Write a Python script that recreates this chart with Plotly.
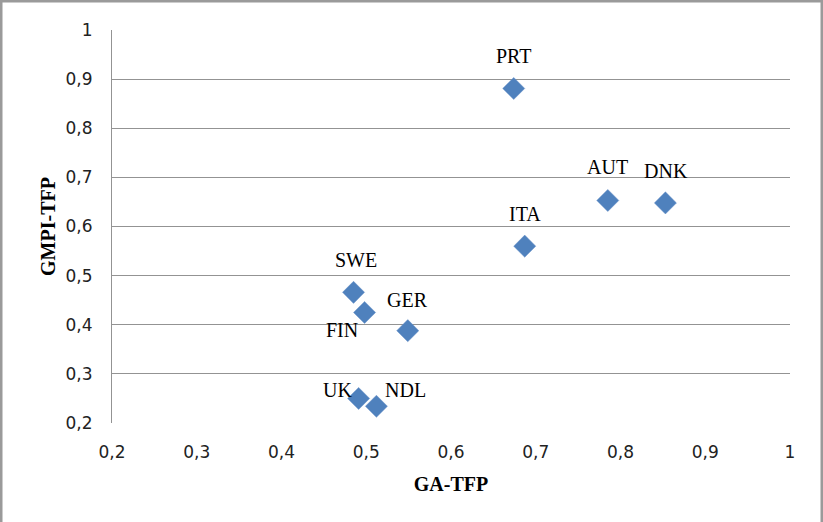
import plotly.graph_objects as go

countries = ["PRT", "AUT", "DNK", "ITA", "SWE", "FIN", "GER", "UK", "NDL"]
ga_tfp = [0.674, 0.785, 0.853, 0.687, 0.485, 0.498, 0.549, 0.491, 0.512]
gmpi_tfp = [0.881, 0.653, 0.648, 0.560, 0.466, 0.425, 0.388, 0.250, 0.234]
tick_vals = [0.2, 0.3, 0.4, 0.5, 0.6, 0.7, 0.8, 0.9, 1.0]
tick_text = ["0,2", "0,3", "0,4", "0,5", "0,6", "0,7", "0,8", "0,9", "1"]

# label pixel offsets (styling)
label_offsets = {
    "PRT": (0, -32), "AUT": (0, -33), "DNK": (1, -32), "ITA": (0, -32),
    "SWE": (2, -32), "FIN": (-23, 18), "GER": (0, -31), "UK": (-21, -8),
    "NDL": (29, -16),
}

W, H = 823, 522
ML, MR, MT, MB = 112, 33, 30, 99
pw, ph = W - ML - MR, H - MT - MB

fig = go.Figure()
fig.add_trace(go.Scatter(
    x=ga_tfp, y=gmpi_tfp, mode="markers",
    marker=dict(symbol="diamond", size=17, color="#4F81BD",
                line=dict(width=0.5, color="#6A93C8")),
    hoverinfo="skip", showlegend=False,
))

annotations = []
for c, xv, yv in zip(countries, ga_tfp, gmpi_tfp):
    dx, dy = label_offsets[c]
    annotations.append(dict(
        x=xv, y=yv, xref="x", yref="y", text=c, showarrow=False,
        xshift=dx, yshift=-dy,
        font=dict(family="Liberation Serif", size=20, color="#000000"),
    ))

top = 1 + (MT - 1) / ph
topv = 1 + MT / ph
fig.update_layout(
    width=W, height=H, autosize=False,
    margin=dict(l=ML, r=MR, t=MT, b=MB, pad=0),
    paper_bgcolor="white", plot_bgcolor="white",
    annotations=annotations,
    xaxis=dict(
        range=[0.2, 1.0], tickvals=tick_vals, ticktext=tick_text,
        showgrid=False, zeroline=False, showline=False, ticks="",
        tickfont=dict(family="DejaVu Sans", size=17, color="#222222"),
        ticklabelstandoff=17,
        title=dict(text="<b>GA-TFP</b>", standoff=15,
                   font=dict(family="Liberation Serif", size=20, color="#000000")),
    ),
    yaxis=dict(
        range=[0.2, 1.0], tickvals=tick_vals, ticktext=tick_text,
        showgrid=True, gridcolor="#939393", gridwidth=1,
        zeroline=False, showline=True, linecolor="#939393", linewidth=1,
        ticks="",
        tickfont=dict(family="DejaVu Sans", size=17, color="#222222"),
        ticklabelstandoff=15,
        title=dict(text="<b>GMPI-TFP</b>", standoff=4,
                   font=dict(family="Liberation Serif", size=20, color="#000000")),
    ),
    shapes=[
        dict(type="line", xref="paper", yref="paper",
             x0=-ML / pw, x1=(W - ML) / pw, y0=top, y1=top,
             line=dict(color="#9A9A9A", width=3), layer="above"),
        dict(type="line", xref="paper", yref="paper",
             x0=-(ML - 1) / pw, x1=-(ML - 1) / pw, y0=-MB / ph, y1=topv,
             line=dict(color="#9A9A9A", width=3), layer="above"),
        dict(type="line", xref="paper", yref="paper",
             x0=(W - ML - 1) / pw, x1=(W - ML - 1) / pw, y0=-MB / ph, y1=topv,
             line=dict(color="#9A9A9A", width=3), layer="above"),
    ],
)

fig.write_html(
    "out.html",
    config={"displayModeBar": False},
    post_script="document.body.style.margin='0';document.body.style.padding='0';",
)
